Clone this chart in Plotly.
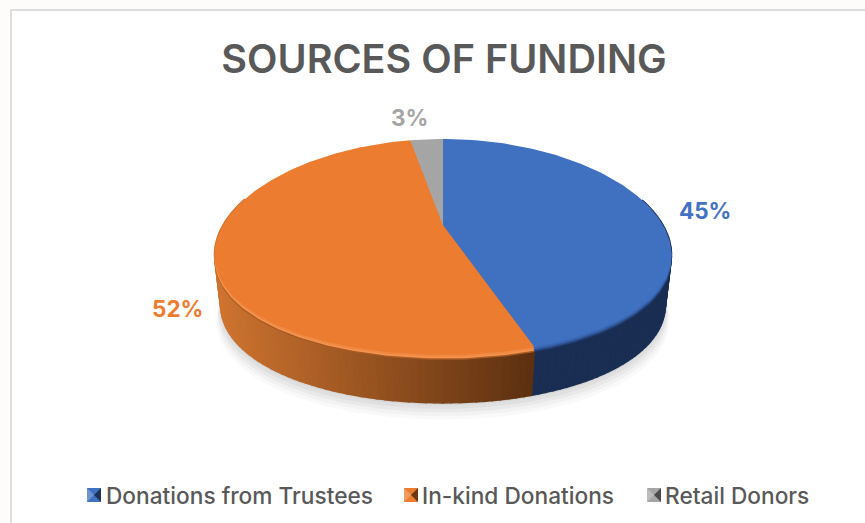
import numpy as np
import plotly.graph_objects as go

# ---- data ----
categories = ["Donations from Trustees", "In-kind Donations", "Retail Donors"]
values = [45, 52, 3]
title_text = "SOURCES OF FUNDING"

# ---- style ----
top_colors = ["#4070c0", "#eb7c30", "#a5a5a5"]
rim_colors = [["#223f73", "#2f5596", "#3a67b2"],
              ["#a85a22", "#f59450", "#f08a42"],
              ["#777777", "#b0b0b0", "#a8a8a8"]]
wall_left = ["#1d3159", "#cf7430", "#8a8a8a"]
wall_right = ["#182b4f", "#5c3010", "#555555"]
label_colors = ["#4472c4", "#ed7d31", "#a5a5a5"]
label_xy = [(705, 210), (177, 308), (409, 117)]
legend_icon_x = [87, 404, 647]
legend_text_x = [104, 420, 663]
legend_y = 495
W, H = 865, 523
CX, CY = 443, 225          # image of the pie's centre
A, B, KX, KY = 220.0, 103.5, 0.27, 0.2035   # projection of the tilted disc
DEPTH = 52
BOTTOM_SCALE = 0.975


def project(theta, scale=1.0, dy=0.0):
    """theta: clockwise from 12 o'clock, radians."""
    u, v = scale * np.sin(theta), scale * np.cos(theta)
    return CX + A * u / (1 + KX * v), CY - B * v / (1 + KY * v) + dy


def hexmix(c1, c2, t):
    a = [int(c1[i:i + 2], 16) for i in (1, 3, 5)]
    b = [int(c2[i:i + 2], 16) for i in (1, 3, 5)]
    return "rgb(%d,%d,%d)" % tuple(round(x + (y - x) * t) for x, y in zip(a, b))


fig = go.Figure()


def poly(x, y, color, opacity=1.0, line=0.0):
    fig.add_trace(go.Scatter(
        x=list(x), y=list(y), mode="lines", fill="toself", fillcolor=color,
        line=dict(color=color, width=line), opacity=opacity,
        hoverinfo="skip", showlegend=False))


# soft shadow under the pie
circle = np.linspace(0, 2 * np.pi, 240)
for off, op in [(14, 0.05), (11, 0.06), (8, 0.07), (5, 0.08), (2, 0.09)]:
    sx, sy = project(circle, BOTTOM_SCALE + off * 0.0012, DEPTH + off)
    poly(sx, sy, "#808080", op)

fractions = np.array(values, dtype=float) / sum(values)
edges = np.concatenate([[0], np.cumsum(fractions)]) * 2 * np.pi

# side wall, in narrow strips so the shading can run across it
for i in range(len(values)):
    a0, a1 = edges[i], edges[i + 1]
    n = max(2, int((a1 - a0) / (2 * np.pi) * 220))
    th = np.linspace(a0, a1, n + 1)
    for j in range(n):
        mid = 0.5 * (th[j] + th[j + 1])
        if np.cos(mid) > 0.25:
            continue
        t = np.clip((project(mid)[0] - 214) / (534 - 214), 0, 1) if i == 1 else 0.5
        tt = np.array([th[j], th[j + 1]])
        x1, y1 = project(tt)
        x2, y2 = project(tt[::-1], BOTTOM_SCALE, DEPTH)
        poly(np.r_[x1, x2, x1[0]], np.r_[y1, y2, y1[0]],
             hexmix(wall_left[i], wall_right[i], float(t)), line=1.5)

# top face: stacked copies give the bevel on the front edge
for dy, layer in [(5, 0), (3.5, 1), (2, 2), (0, None)]:
    for i in range(len(values)):
        th = np.linspace(edges[i], edges[i + 1], max(3, int(fractions[i] * 300)))
        x, y = project(th, 1.0, dy)
        cx0, cy0 = CX, CY + dy
        color = top_colors[i] if layer is None else rim_colors[i][layer]
        poly(np.r_[cx0, x, cx0], np.r_[cy0, y, cy0], color)

# legend: bevelled squares beside real text
S = 14
for i, name in enumerate(categories):
    x0, y0 = legend_icon_x[i], legend_y - S / 2
    xm, ym = x0 + S / 2, y0 + S / 2
    poly([x0, x0 + S, x0 + S, x0, x0], [y0, y0, y0 + S, y0 + S, y0], top_colors[i])
    poly([x0, xm, x0, x0], [y0, ym, y0 + S, y0], hexmix(top_colors[i], "#ffffff", 0.25))
    poly([x0 + S, xm, x0 + S, x0 + S], [y0, ym, y0 + S, y0], hexmix(top_colors[i], "#000000", 0.55))

annotations = []
for i, name in enumerate(categories):
    annotations.append(dict(x=legend_text_x[i], y=legend_y, text=name, showarrow=False,
                            xanchor="left", yanchor="middle", xref="x", yref="y",
                            font=dict(family="Inter", size=22.7, color="#595959", weight=500)))
    annotations.append(dict(x=label_xy[i][0], y=label_xy[i][1], text=f"{values[i]}%", showarrow=False,
                            xanchor="center", yanchor="middle", xref="x", yref="y",
                            font=dict(family="Inter", size=22.5, color=label_colors[i], weight=700)))

fig.update_layout(
    width=W, height=H, autosize=False,
    margin=dict(l=0, r=0, t=0, b=0),
    paper_bgcolor="#fdfcfa", plot_bgcolor="#fdfcfa",
    xaxis=dict(range=[0, W], visible=False, fixedrange=True),
    yaxis=dict(range=[H, 0], visible=False, fixedrange=True),
    showlegend=False,
    title=dict(text=title_text, x=444 / W, xanchor="center", y=1 - 59 / H, yanchor="middle",
               font=dict(family="Inter", size=39.6, color="#595959", weight=600)),
    annotations=annotations,
    shapes=[dict(type="rect", xref="x", yref="y", x0=11, y0=10, x1=W + 20, y1=H + 20,
                 fillcolor="#ffffff", line=dict(color="#dedede", width=2), layer="below")],
)
fig.write_html("out.html", config={"displayModeBar": False},
               post_script="document.body.style.margin='0';document.body.style.overflow='hidden';")
